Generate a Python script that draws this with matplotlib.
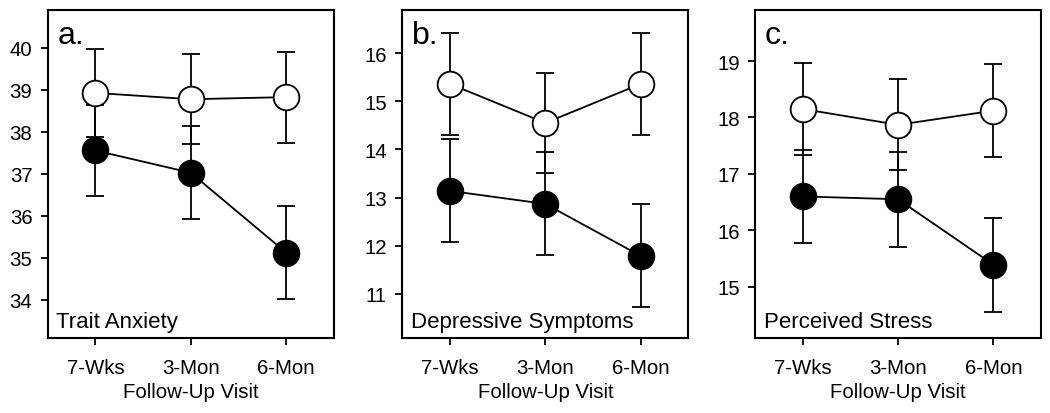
import matplotlib
matplotlib.use("Agg")
import matplotlib.pyplot as plt

plt.rcParams['font.family'] = ['Liberation Sans', 'DejaVu Sans']

visits = ["7-Wks", "3-Mon", "6-Mon"]
x_label = "Follow-Up Visit"

panel_letters = ["a.", "b.", "c."]
panel_titles = ["Trait Anxiety", "Depressive Symptoms", "Perceived Stress"]

# open circles (group 1)
open_means = [
    [38.92, 38.77, 38.82],
    [15.36, 14.55, 15.36],
    [18.15, 17.87, 18.12],
]
open_errs = [
    [1.05, 1.07, 1.08],
    [1.05, 1.04, 1.065],
    [0.81, 0.81, 0.82],
]
# filled circles (group 2)
filled_means = [
    [37.55, 37.02, 35.12],
    [13.14, 12.87, 11.79],
    [16.60, 16.55, 15.39],
]
filled_errs = [
    [1.08, 1.11, 1.10],
    [1.07, 1.07, 1.07],
    [0.82, 0.84, 0.83],
]

y_ticks = [
    [34, 35, 36, 37, 38, 39, 40],
    [11, 12, 13, 14, 15, 16],
    [15, 16, 17, 18, 19],
]
y_lims = [(33.08, 40.9), (10.08, 16.9), (14.085, 19.91)]

fig = plt.figure(figsize=(10.5, 4.14), dpi=100)
lefts = [0.0454, 0.3831, 0.7190]
width = 0.2725
bottom = 0.1804
height = 0.7937

xs = [1, 2, 3]
for i in range(3):
    ax = fig.add_axes([lefts[i], bottom, width, height])
    ax.errorbar(xs, open_means[i], yerr=open_errs[i], fmt='none',
                ecolor='black', elinewidth=1.3, capsize=6.5, capthick=1.3, zorder=2)
    ax.errorbar(xs, filled_means[i], yerr=filled_errs[i], fmt='none',
                ecolor='black', elinewidth=1.3, capsize=6.5, capthick=1.3, zorder=2)
    ax.plot(xs, open_means[i], color='black', lw=1.3, zorder=3)
    ax.plot(xs, filled_means[i], color='black', lw=1.3, zorder=3)
    ax.plot(xs, open_means[i], 'o', ms=18.5, mfc='white', mec='black', mew=1.3,
            ls='none', zorder=4)
    ax.plot(xs, filled_means[i], 'o', ms=18.5, mfc='black', mec='black', mew=1.3,
            ls='none', zorder=5)
    ax.set_xlim(0.5, 3.5)
    ax.set_ylim(*y_lims[i])
    ax.set_xticks(xs)
    ax.set_xticklabels(visits)
    ax.set_yticks(y_ticks[i])
    ax.tick_params(axis='both', direction='out', length=5, width=1.3,
                   labelsize=14.7, color='black')
    ax.tick_params(axis='x', pad=9)
    ax.tick_params(axis='y', pad=6)
    for sp in ax.spines.values():
        sp.set_linewidth(1.5)
    ax.set_xlabel(x_label, fontsize=14.7, labelpad=3.5)
    ax.text(0.035, 0.9, panel_letters[i], transform=ax.transAxes,
            fontsize=23, va='baseline', ha='left')
    ax.text(0.03, 0.035, panel_titles[i], transform=ax.transAxes,
            fontsize=16, va='baseline', ha='left')

fig.savefig("out.png", dpi=100)
